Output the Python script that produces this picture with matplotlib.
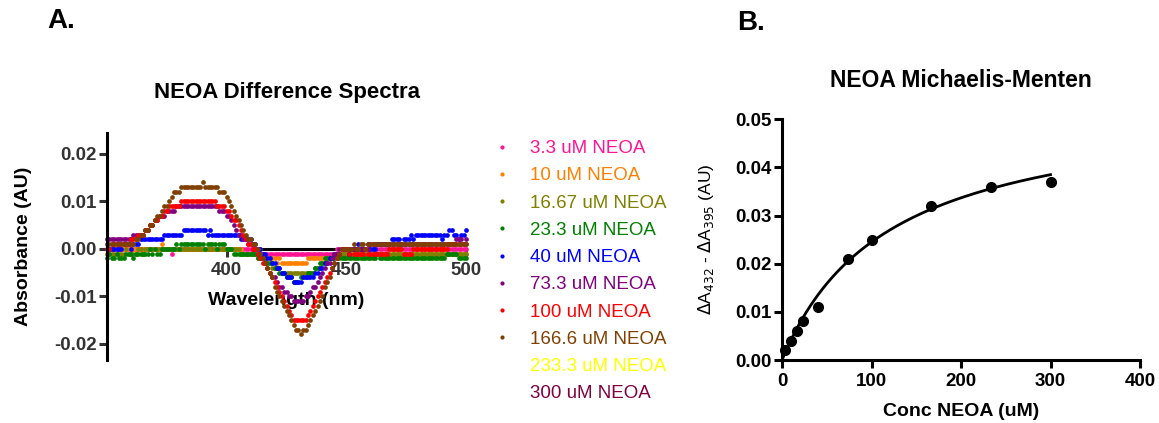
import matplotlib
matplotlib.use("Agg")
import matplotlib.pyplot as plt
from matplotlib.lines import Line2D
import numpy as np

plt.rcParams['font.family'] = ['Liberation Sans', 'DejaVu Sans']

# ---- Panel A: difference spectra (mAU, 1 nm steps 350..500) ----
wavelength = list(range(350, 501))

pink_33 = ([0]*12 + [0]*11 + [0, 0, 0, 0, -1, 0, 0, 0, 0, 0, 0] + [0]*12 + [0]*15
           + [0, 0, 0, 0, -1] + [-1]*14 + [-1]*5 + [-1]*11 + [0, -1]
           + [0, 0, 0, 0, 0, 0, 0, 0, 0, 0, 0, 0, 0, 0, 0, 0, 0, 0, 0, 0, 0, 0, 0, 0, 0, 0,
              0, 0, 0, 0, 0, 0, 1, 0, 1, 0, 0, 0, 0, 0, 0, 0, 0, 0, 0, 0, 0, 0, 0, 0, 0, 0, 0])
orange_10 = ([0]*12 + [0]*11 + [1, 0, 0, 0, 0, 0, 0, 0, 0, 0, 0] + [0]*12
             + [0, 0, 0, 0, 0, 0, 0, 0, 0, 0, 0, -1, -1, -1, -1]
             + [-1, -1, -2, -2, -2]
             + [-2, -2, -2, -2, -2, -3, -2, -3, -3, -3, -3, -3, -3, -3]
             + [-3, -3, -3, -3, -2]
             + [-2, -2, -2, -2, -2, -2, -2, -2, -2, -2, -2, -2, -1]
             + [-1, -1, -1, -1, -1, -1, 0, -1, -1, -1, -1, -1, -1, 0, -1, -1, -1, -1, -1, -1,
                -1, 0, -1, -1, -1, -1, -1, -1, -1, -1, -1, -1, 0, -1, -1, -1, -1, -1, -1, -1,
                -1, -1, -1, 0, -1, -1, -1, -1, -1, -1, -1, -1, -1])
olive_1667 = ([-1, -1, -1, -1, -1, -1, -1, -1, 0, -1, -1, -1]
              + [-1, 0, 0, -1, 0, 0, 0, 0, 0, 0, 0] + [0]*11 + [0]*12
              + [0, 0, 0, 0, 0, 0, 0, 0, 0, 0, -1, -1, -1, -1, -1]
              + [-1, -1, -2, -2, -2]
              + [-3, -3, -3, -4, -4, -4, -4, -5, -5, -5, -5, -5, -5, -5]
              + [-5, -5, -5, -5, -5]
              + [-5, -5, -4, -4, -4, -3, -3, -2, -2, -2, -1, -1, -1]
              + [-1, -1, -1, -1, -1, -1, -1, -1, -1, -1, -1, -1, -1, -1, -1, -1, -1, -1, -1, -1,
                 -1, -1, -1, -1, -1, -1, -1, -1, -1, -1, -1, -1, -1, -1, -1, -1, -1, -1, -1, -1,
                 -1, -1, -1, -1, -1, -1, -1, -1, -1, -1, -1, -1, -1])
green_233 = ([-2, -1, -2, -2, -1, -2, -2, -2, -1, -1, -1, -2]
             + [-1, -1, -1, -1, -1, -1, 0, -1, 0, -1, -1]
             + [0, 0, 0, 0, 0, 0, 1, 0, 1, 1, 1]
             + [1, 1, 1, 1, 1, 1, 1, 0, 1, 1, 1, 1]
             + [0, 1, 1, 1, 0, 0, 0, -1, -1, -1, -1, -1, -1, -1, -1]
             + [-1, -1, -2, -2, -2]
             + [-2, -3, -3, -3, -4, -4, -5, -5, -5, -6, -6, -6, -7, -7]
             + [-7, -6, -6, -6, -5]
             + [-5, -5, -4, -4, -3, -3, -2, -2, -2, -2, -2, -2, -2]
             + [-2, -2, -2, -2, -2, -2, -2, -2, -2, -2, -2, -2, -2, -2, -2, -1, -2, -2, -2, -2,
                -2, -2, -2, -2, -2, -2, -2, -2, -2, -2, -2, -2, -2, -2, -2, -2, -2, -2, -2, -2,
                -2, -2, -2, -2, -1, -1, -1, -1, -1, -2, -2, -2, -2])
blue_40 = ([0, 0, 0, 0, 0, 0, 0, 1, 1, 1, 0, 1]
           + [1, 1, 2, 2, 2, 2, 2, 2, 2, 2, 2]
           + [2, 3, 3, 3, 3, 3, 3, 3, 3, 4, 4]
           + [4, 4, 4, 4, 4, 4, 4, 4, 3, 4, 3, 3]
           + [3, 3, 3, 3, 3, 3, 3, 3, 3, 3, 2, 2, 2, 2, 2]
           + [1, 1, 0, 0, -1]
           + [-1, -2, -2, -3, -3, -4, -4, -5, -5, -6, -6, -6, -7, -7]
           + [-7, -7, -6, -6, -6]
           + [-6, -6, -5, -5, -4, -4, -3, -3, -2, -2, -1, -1, -1]
           + [0, 0, 0, -1, 0]
           + [0, 0, 1, 0, 0, 0, 1, 0, 0, 0, 1, 1, 1, 1]
           + [1, 1, 2, 2, 2, 2, 1, 2, 2, 2, 3, 2]
           + [3, 3, 3, 3, 3, 3, 3, 3, 3, 3, 3, 2, 3, 3]
           + [4, 4, 3, 3, 2, 3, 3, 4])
purple_733 = ([2, 2, 2, 2, 2, 2, 2, 2, 2, 2, 2, 3]
              + [3, 3, 3, 3, 4, 4, 5, 5, 6, 6, 7]
              + [7, 7, 8, 8, 8, 8, 9, 9, 9, 9, 9]
              + [9]*12
              + [9, 8, 8, 8, 7, 7, 6, 5, 4, 3, 3, 2, 2, 1, 1]
              + [0, 0, -1, -1, -2]
              + [-3, -4, -5, -6, -6, -7, -8, -8, -9, -9, -10, -10, -11, -11]
              + [-11, -11, -11, -10, -10]
              + [-9, -8, -8, -7, -6, -5, -4, -3, -3, -2, -1, -1, 0]
              + [0, 0, 0, 0, 0, 0, 0, 0, 0, 0, 0, 0, 1, 1, 1, 1, 1, 1, 1, 1,
                 1, 1, 1, 1, 1, 1, 1, 1, 1, 1, 1, 1, 1, 1, 1, 1, 1, 1, 1, 1,
                 1, 1, 1, 1, 1, 1, 1, 1, 2, 2, 2, 1, 2])
red_100 = ([0, 0, 1, 1, 1, 1, 1, 1, 1, 1, 2, 2]
           + [2, 3, 3, 3, 4, 4, 5, 5, 6, 6, 7]
           + [7, 8, 8, 9, 9, 9, 9, 9, 10, 10, 10]
           + [10]*12
           + [9, 9, 9, 9, 8, 8, 7, 6, 6, 5, 4, 3, 2, 1, 1]
           + [0, 0, -1, -2, -3]
           + [-3, -4, -5, -6, -7, -8, -9, -10, -11, -12, -13, -14, -15, -15]
           + [-15, -15, -15, -15, -14]
           + [-13, -12, -11, -10, -9, -8, -7, -6, -5, -4, -3, -2, -1]
           + [0, 0, 0, -1, 0, -1, -1, -1, -1, -1, 0, -1, -1, -1, -1, -1, -1, -1, -1, -1,
              0, 0, 0, 0, 0, 0, -1, -1, -1, -1, 0, 0, 0, 0, 0, 0, 0, 0, 0, 0,
              0, 0, 0, 0, 0, 1, 1, 1, 1, 1, 1, 1, 1])
brown_1666 = ([1]*12
              + [2, 2, 3, 3, 4]
              + [4, 5, 5, 6, 7, 7, 8, 9, 9, 10]
              + [11, 12, 12, 12, 13]
              + [13, 13, 13, 13, 13, 13, 13, 13, 14, 13, 13, 13, 13, 13, 13, 12, 12]
              + [12, 11, 10, 9, 8, 7, 6, 5, 4, 3, 2]
              + [2, 1, 1, 0, -1, -2]
              + [-3, -4, -5, -6, -8, -9, -10, -11, -12, -13, -14, -15, -16, -17, -17]
              + [-18, -17, -17, -16]
              + [-15, -14, -13, -12, -11, -10, -8, -7, -6, -4, -3, -2, -1]
              + [0, 0, 0, 0, 0, 1, 0, 0, 1, 1, 0, 1, 1, 1, 1, 1, 1]
              + [1, 1, 1, 1, 1, 1, 1, 1, 1, 1, 1, 1, 1, 1, 1, 1, 1, 1,
                 1, 1, 1, 1, 1, 1, 1, 1, 1, 1, 1, 1, 1, 1, 1, 1, 1, 1])

spectra = [pink_33, orange_10, olive_1667, green_233, blue_40,
           purple_733, red_100, brown_1666]
legend_labels = ['3.3 uM NEOA', '10 uM NEOA', '16.67 uM NEOA', '23.3 uM NEOA',
                 '40 uM NEOA', '73.3 uM NEOA', '100 uM NEOA', '166.6 uM NEOA',
                 '233.3 uM NEOA', '300 uM NEOA']
colors = ['#ff1493', '#ff8000', '#808000', '#008000', '#0000ff',
          '#800080', '#ff0000', '#804000', '#ffff00', '#800040']

# ---- Panel B: Michaelis-Menten ----
conc = [3.3, 10, 16.67, 23.3, 40, 73.3, 100, 166.6, 233.3, 300]
delta_abs = [0.002, 0.004, 0.006, 0.008, 0.011, 0.021, 0.025, 0.032, 0.036, 0.037]
vmax = 0.0539
km = 120.0

fig = plt.figure(figsize=(11.59, 4.23), dpi=100)

# Panel A
axA = fig.add_axes([107/1159, 1 - 360/423, (466-107)/1159, (360-133)/423])
for vals, c in zip(spectra, colors):
    axA.plot(wavelength, np.array(vals) / 1000.0, 'o', color=c, ms=3.4, mew=0,
             clip_on=False)
axA.set_xlim(350, 500)
axA.set_ylim(-0.0234, 0.0244)
axA.spines['top'].set_visible(False)
axA.spines['right'].set_visible(False)
axA.spines['bottom'].set_position(('data', 0))
axA.spines['left'].set_linewidth(2.2)
axA.spines['bottom'].set_linewidth(2.2)
axA.spines['bottom'].set_zorder(0)
axA.set_xticks([400, 450, 500])
axA.set_xticklabels(['400', '450', '500'])
axA.set_yticks([-0.02, -0.01, 0.0, 0.01, 0.02])
axA.set_yticklabels(['-0.02', '-0.01', '0.00', '0.01', '0.02'])
axA.tick_params(axis='both', width=2.2, length=6, labelsize=13.5, colors='#333333',
                direction='out')
axA.tick_params(axis='y', pad=1.5)
for lbl in axA.get_xticklabels() + axA.get_yticklabels():
    lbl.set_fontweight('bold')
axA.set_title('NEOA Difference Spectra', fontsize=16, fontweight='bold', pad=25)
axA.set_ylabel('Absorbance (AU)', fontsize=14, fontweight='bold')
axA.yaxis.set_label_coords(-0.209, 0.5)
axA.set_xlabel('Wavelength (nm)', fontsize=14, fontweight='bold', va='center')
axA.xaxis.set_label_coords(0.5, 0.26)

handles = []
for i, c in enumerate(colors):
    mk = 'o' if i < len(spectra) else ''
    handles.append(Line2D([], [], ls='', marker=mk, ms=3.0, mew=0, color=c))
fig.legend(handles, legend_labels, loc='upper left',
           bbox_to_anchor=(492.6/1159, 1 - 140/423), frameon=False,
           fontsize=13.5, labelcolor=colors, handlelength=1.0,
           handletextpad=1.0, labelspacing=0.54, borderpad=0, borderaxespad=0)

# Panel B
axB = fig.add_axes([782/1159, 1 - 360/423, (1140-782)/1159, (360-119.3)/423])
xfit = np.linspace(0, 300, 200)
axB.plot(xfit, vmax * xfit / (km + xfit), color='black', lw=2.0)
axB.plot(conc, delta_abs, 'o', color='black', ms=7, clip_on=False)
axB.set_xlim(0, 400)
axB.set_ylim(0, 0.05)
axB.spines['top'].set_visible(False)
axB.spines['right'].set_visible(False)
axB.spines['left'].set_linewidth(2.2)
axB.spines['bottom'].set_linewidth(2.2)
axB.set_xticks([0, 100, 200, 300, 400])
axB.set_yticks([0, 0.01, 0.02, 0.03, 0.04, 0.05])
axB.set_yticklabels(['0.00', '0.01', '0.02', '0.03', '0.04', '0.05'])
axB.tick_params(axis='both', width=2.2, length=6, labelsize=13.5, colors='black')
axB.tick_params(axis='y', pad=1.5)
for lbl in axB.get_xticklabels() + axB.get_yticklabels():
    lbl.set_fontweight('bold')
axB.set_title('NEOA Michaelis-Menten', fontsize=16.5, fontweight='bold', pad=23)
axB.set_xlabel('Conc NEOA (uM)', fontsize=14, fontweight='bold', labelpad=9)
axB.set_ylabel(r'$\Delta$A$_{432}$ - $\Delta$A$_{395}$ (AU)', fontsize=12.5)
axB.yaxis.set_label_coords(-0.185, 0.5)

fig.text(47/1159, 1 - 21/423, 'A.', fontsize=20, fontweight='bold', va='center')
fig.text(737/1159, 1 - 23/423, 'B.', fontsize=20, fontweight='bold', va='center')

fig.savefig('out.png', dpi=100)
